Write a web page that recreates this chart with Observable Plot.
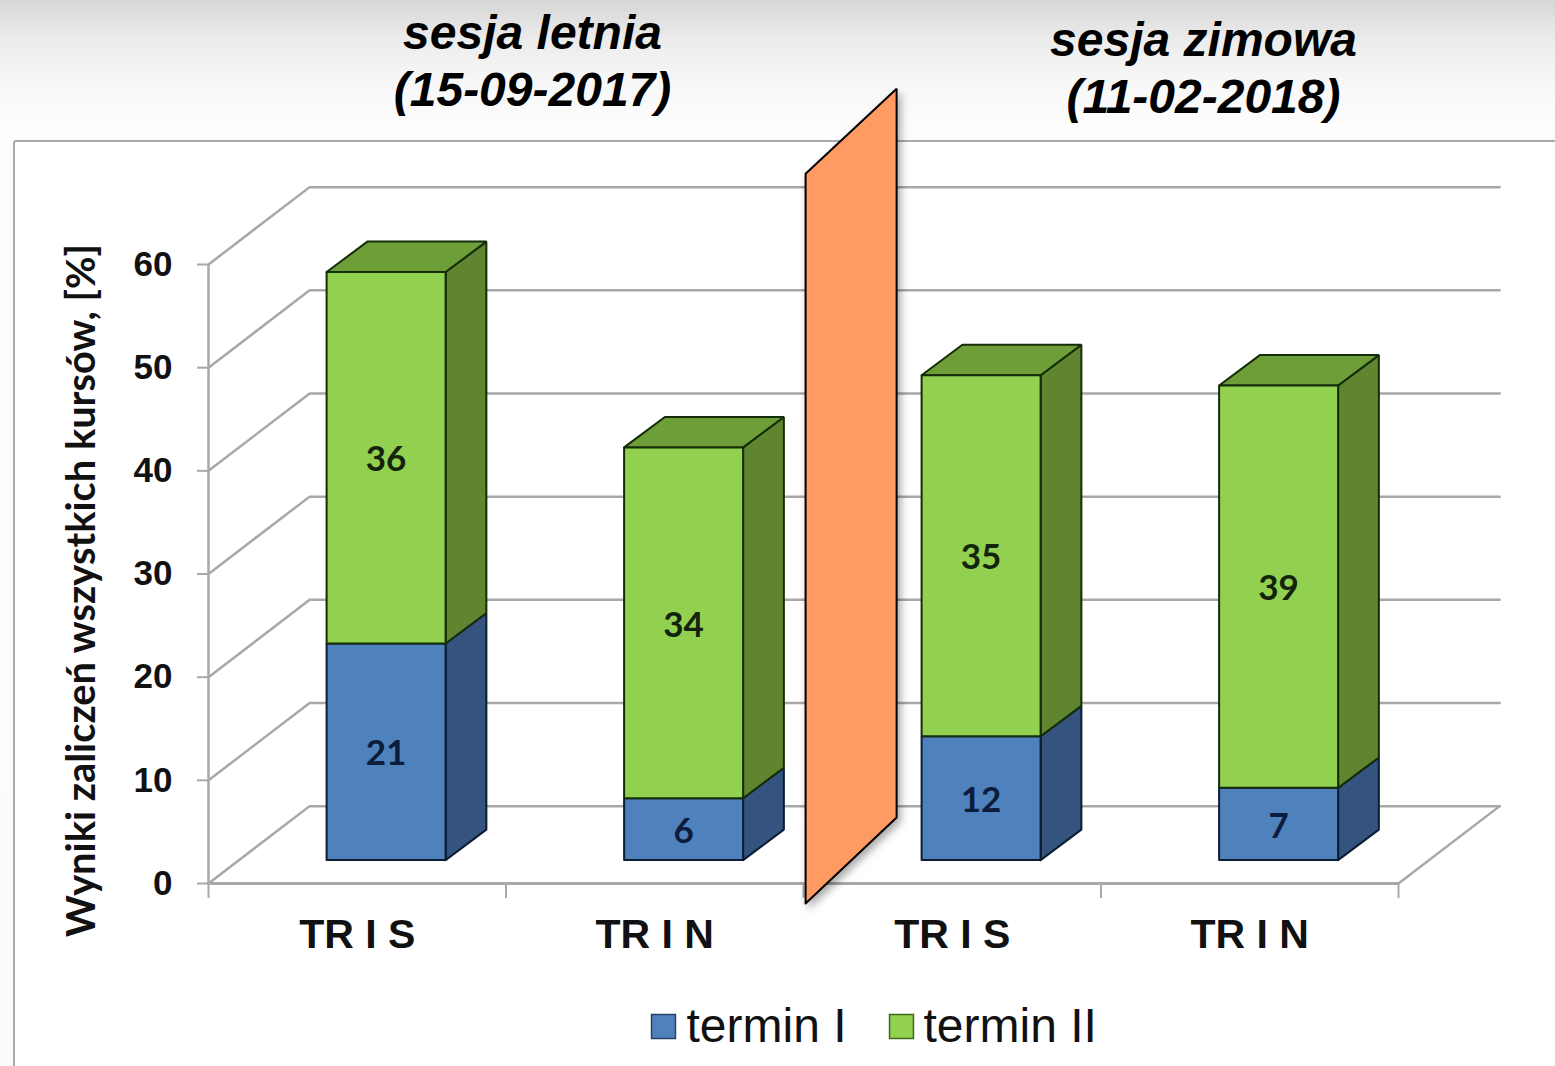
<!DOCTYPE html>
<html>
<head>
<meta charset="utf-8">
<script src="https://cdn.jsdelivr.net/npm/d3@7"></script>
<script src="https://cdn.jsdelivr.net/npm/@observablehq/plot@0.6"></script>
<style>
html,body{margin:0;padding:0;width:1555px;height:1066px;overflow:hidden;background:linear-gradient(#d6d6d6 0,#ececec 40px,#f8f8f8 85px,#fdfdfd 130px,#fcfcfc 100%);}
#card{position:absolute;left:13px;top:140px;width:1560px;height:960px;background:#fff;border:2px solid #a9a9a9;border-radius:3px;box-sizing:border-box;}
#chart{position:absolute;left:0;top:0;}
svg{background:transparent !important;display:block;}
</style>
</head>
<body>
<div id="card"></div>
<div id="chart"></div>
<script>
const categories = ["TR I S", "TR I N", "TR I S", "TR I N"];
const terminI = [21, 6, 12, 7];
const terminII = [36, 34, 35, 39];
const gridValues = [0, 10, 20, 30, 40, 50, 60];
const categoryEdges = [0, 1, 2, 3, 4];
const yTitle = "Wyniki zaliczeń wszystkich kursów, [%]";
const headings = [
  {text: "sesja letnia", cx: 532, cy: 33},
  {text: "(15-09-2017)", cx: 532, cy: 90},
  {text: "sesja zimowa", cx: 1203, cy: 40},
  {text: "(11-02-2018)", cx: 1203, cy: 97}
];
const legendItems = [
  {label: "termin I", fill: "#4F81BD", stroke: "#24426a", sx: 663, tx: 686},
  {label: "termin II", fill: "#92D050", stroke: "#3f6a1e", sx: 901, tx: 923}
];

// depth of the 3-D wall and of the bars, in data units
const WALL_DX = 0.34, WALL_DY = 7.5;
const BAR_X = 0.097, BAR_Y = 2.27, BAR_HALF = 0.2, BAR_DX = 0.137, BAR_DY = 2.95;
const ML = 208, MT = 264;
const at = (px, py) => ({frameAnchor: "top-left", dx: px - ML, dy: py - MT, lineAnchor: "middle", textAnchor: "middle"});

const gridlines = gridValues.flatMap(v => [
  {id: v, x: 0, y: v},
  {id: v, x: WALL_DX, y: v + WALL_DY},
  {id: v, x: 4 + WALL_DX, y: v + WALL_DY}
]);
const floorEdge = [{x: 4, y: 0}, {x: 4 + WALL_DX, y: WALL_DY}];

const polys = [];
let pid = 0;
function poly(fill, stroke, pts) {
  pid++;
  pts.concat([pts[0]]).forEach(p => polys.push({id: pid, x: p[0], y: p[1], fill, stroke}));
}
function box(c, v0, v1, front, side, top, stroke) {
  const l = c + 0.5 + BAR_X - BAR_HALF, r = c + 0.5 + BAR_X + BAR_HALF;
  const b = v0 + BAR_Y, t = v1 + BAR_Y;
  poly(side, stroke, [[r, b], [r + BAR_DX, b + BAR_DY], [r + BAR_DX, t + BAR_DY], [r, t]]);
  if (top) poly(top, stroke, [[l, t], [l + BAR_DX, t + BAR_DY], [r + BAR_DX, t + BAR_DY], [r, t]]);
  poly(front, stroke, [[l, b], [r, b], [r, t], [l, t]]);
}
categories.forEach((_, c) => {
  box(c, 0, terminI[c], "#4F81BD", "#34537e", null, "#0b1c33");
  box(c, terminI[c], terminI[c] + terminII[c], "#92D050", "#5F8531", "#6D9E38", "#142c08");
});

const labels = categories.flatMap((_, c) => [
  {x: c + 0.5 + BAR_X, y: terminI[c] / 2 + BAR_Y, text: String(terminI[c]), fill: "#0c1c3c"},
  {x: c + 0.5 + BAR_X, y: terminI[c] + terminII[c] / 2 + BAR_Y, text: String(terminII[c]), fill: "#14240c"}
]);

const divider = [
  {x: 2.007, y: -1.94}, {x: 2.007, y: 68.8}, {x: 2.313, y: 77.03}, {x: 2.313, y: 6.4}, {x: 2.007, y: -1.94}
];

const GRID = "#a8a8a8";
const chart = Plot.plot({
  width: 1555, height: 1066,
  marginLeft: ML, marginRight: 157, marginTop: MT, marginBottom: 183,
  style: {background: "transparent"},
  x: {domain: [0, 4], axis: null},
  y: {domain: [0, 60], axis: null},
  marks: [
    Plot.line(gridlines, {x: "x", y: "y", z: "id", stroke: GRID, strokeWidth: 2.5, strokeLinejoin: "miter"}),
    Plot.line(floorEdge, {x: "x", y: "y", stroke: GRID, strokeWidth: 2.5}),
    Plot.ruleX([0], {y1: 0, y2: 60, stroke: GRID, strokeWidth: 2.5}),
    Plot.ruleY([0], {x1: 0, x2: 4, stroke: GRID, strokeWidth: 3}),
    Plot.ruleX(categoryEdges, {y1: 0, y2: -1.45, stroke: GRID, strokeWidth: 2}),
    Plot.axisY({anchor: "left", ticks: gridValues, tickSize: 11, tickPadding: 25, label: null, stroke: GRID, strokeWidth: 2,
      fontSize: 35, fontWeight: "bold", fontFamily: "Liberation Sans", fill: "#111"}),
    Plot.axisX({anchor: "bottom", ticks: [0.5, 1.5, 2.5, 3.5], tickSize: 0, tickPadding: 35, label: null,
      tickFormat: d => categories[d - 0.5], fontSize: 41, fontWeight: "bold", fontFamily: "Liberation Sans", fill: "#111"}),
    Plot.line(polys, {x: "x", y: "y", z: "id", fill: d => d.fill, stroke: d => d.stroke, strokeWidth: 2, strokeLinejoin: "miter"}),
    Plot.text(labels, {x: "x", y: "y", dy: 2.5, text: "text", fill: d => d.fill, fontSize: 35, fontWeight: "bold", fontFamily: "Lato"}),
    Plot.line(divider, {x: "x", y: "y", fill: "#FF9A63", stroke: "#000", strokeWidth: 2, strokeLinejoin: "miter",
      imageFilter: "drop-shadow(3px 4px 4px rgba(0,0,0,.35))"}),
    Plot.text([yTitle], {...at(82, 590), text: d => d, rotate: -90, fontSize: 39.8, fontWeight: "bold", fontFamily: "Lato", fill: "#111"}),
    ...headings.map(h => Plot.text([h.text], {...at(h.cx, h.cy), text: d => d, fontSize: 48, fontWeight: "bold", fontStyle: "italic", fontFamily: "Liberation Sans", fill: "#000"})),
    ...legendItems.map(l => Plot.dot([l.label], {frameAnchor: "top-left", dx: l.sx - ML, dy: 1026 - MT, r: 13.5, symbol: "square", fill: l.fill, stroke: l.stroke, strokeWidth: 1.5})),
    ...legendItems.map(l => Plot.text([l.label], {...at(l.tx, 1026), textAnchor: "start", text: d => d, fontSize: 48, fontFamily: "Liberation Sans", fill: "#111"}))
  ],
  color: {type: "identity"}
});
document.getElementById("chart").appendChild(chart);
</script>
</body>
</html>
